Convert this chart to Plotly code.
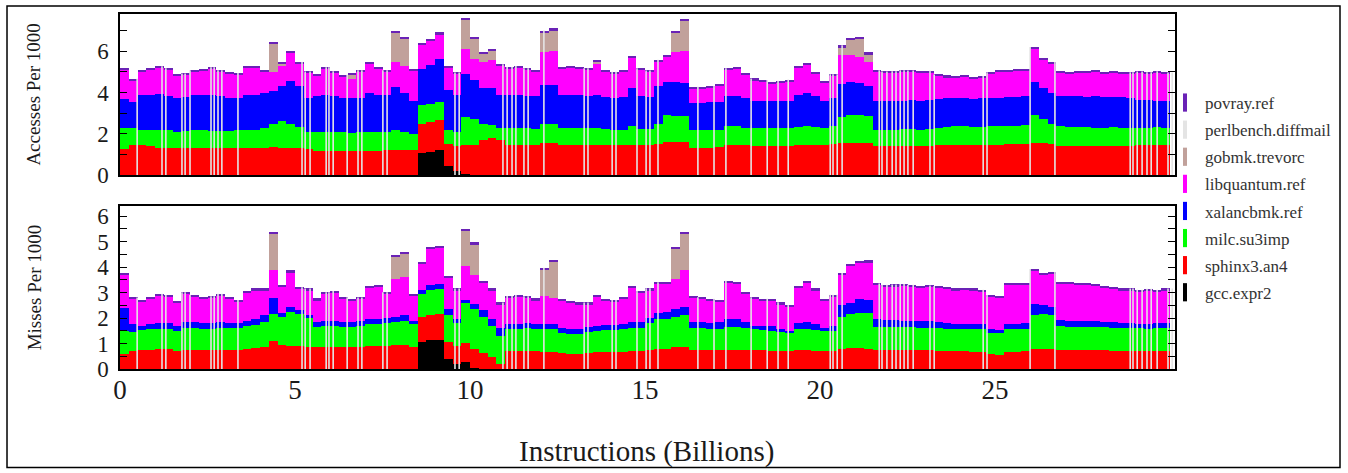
import plotly.graph_objects as go

BIN = 0.25  # billions of instructions per sample bin

# ---------------- Top panel: Accesses per 1000 ----------------
# cumulative upper edge of each stacked layer, per bin
acc_gcc = [
    0, 0, 0, 0, 0, 0, 0, 0, 0, 0,
    0, 0, 0, 0, 0, 0, 0, 0, 0, 0,
    0, 0, 0, 0, 0, 0, 0, 0, 0, 0,
    0, 0, 0, 0, 1.08, 1.10, 1.20, 0.45, 0.20, 0.05,
    0, 0, 0, 0, 0, 0, 0, 0, 0, 0,
    0, 0, 0, 0, 0, 0, 0, 0, 0, 0,
    0, 0, 0, 0, 0, 0, 0, 0, 0, 0,
    0, 0, 0, 0, 0, 0, 0, 0, 0, 0,
    0, 0, 0, 0, 0, 0, 0, 0, 0, 0,
    0, 0, 0, 0, 0, 0, 0, 0, 0, 0,
    0, 0, 0, 0, 0, 0, 0, 0, 0, 0,
    0, 0, 0, 0, 0, 0, 0, 0, 0, 0,
]
acc_red_top = [
    1.25, 1.45, 1.45, 1.40, 1.32, 1.32, 1.30, 1.30, 1.32, 1.32,
    1.30, 1.32, 1.30, 1.32, 1.32, 1.32, 1.32, 1.35, 1.32, 1.32,
    1.32, 1.25, 1.18, 1.18, 1.16, 1.16, 1.16, 1.16, 1.18, 1.18,
    1.20, 1.24, 1.24, 1.20, 2.50, 2.55, 2.65, 1.50, 1.40, 1.45,
    1.45, 1.70, 1.80, 1.70, 1.48, 1.48, 1.48, 1.48, 1.56, 1.56,
    1.48, 1.48, 1.48, 1.48, 1.48, 1.45, 1.45, 1.45, 1.48, 1.45,
    1.45, 1.50, 1.62, 1.62, 1.62, 1.32, 1.32, 1.32, 1.35, 1.45,
    1.45, 1.45, 1.40, 1.40, 1.40, 1.40, 1.40, 1.45, 1.45, 1.45,
    1.45, 1.50, 1.55, 1.56, 1.56, 1.56, 1.40, 1.40, 1.40, 1.42,
    1.42, 1.40, 1.42, 1.45, 1.48, 1.48, 1.48, 1.46, 1.48, 1.48,
    1.48, 1.50, 1.50, 1.52, 1.55, 1.55, 1.50, 1.42, 1.40, 1.40,
    1.40, 1.40, 1.40, 1.42, 1.42, 1.40, 1.45, 1.45, 1.45, 1.45,
]
acc_green_top = [
    2.30, 2.30, 2.20, 2.20, 2.20, 2.20, 2.10, 2.15, 2.20, 2.20,
    2.15, 2.15, 2.15, 2.20, 2.20, 2.20, 2.28, 2.50, 2.60, 2.50,
    2.35, 2.10, 2.08, 2.10, 2.08, 2.08, 2.05, 2.08, 2.10, 2.08,
    2.10, 2.20, 2.10, 2.00, 3.40, 3.45, 3.55, 2.20, 2.10, 2.80,
    2.70, 2.50, 2.45, 2.30, 2.30, 2.30, 2.28, 2.25, 2.50, 2.50,
    2.30, 2.30, 2.28, 2.28, 2.30, 2.25, 2.20, 2.20, 2.36, 2.25,
    2.25, 2.50, 2.90, 2.88, 2.84, 2.20, 2.20, 2.20, 2.20, 2.36,
    2.36, 2.30, 2.28, 2.28, 2.28, 2.28, 2.28, 2.35, 2.40, 2.35,
    2.30, 2.40, 2.80, 2.92, 2.90, 2.85, 2.20, 2.20, 2.20, 2.22,
    2.22, 2.20, 2.22, 2.30, 2.32, 2.36, 2.36, 2.34, 2.32, 2.36,
    2.36, 2.38, 2.40, 2.45, 2.90, 2.70, 2.50, 2.36, 2.32, 2.32,
    2.32, 2.30, 2.30, 2.32, 2.30, 2.28, 2.30, 2.30, 2.32, 2.30,
]
acc_blue_top = [
    3.70, 3.55, 3.90, 3.90, 3.92, 3.85, 3.72, 3.80, 3.88, 3.88,
    3.88, 3.82, 3.75, 3.75, 3.88, 3.90, 3.97, 4.05, 4.30, 4.55,
    4.30, 3.75, 3.82, 3.88, 3.82, 3.75, 3.72, 3.75, 3.97, 3.88,
    3.88, 4.25, 4.00, 3.60, 5.15, 5.35, 5.60, 4.10, 3.90, 4.90,
    4.60, 4.20, 4.20, 3.90, 3.90, 3.90, 3.85, 3.85, 4.35, 4.35,
    3.90, 3.90, 3.88, 3.85, 3.90, 3.80, 3.75, 3.80, 4.20, 3.85,
    3.80, 4.30, 4.50, 4.50, 4.45, 3.50, 3.50, 3.55, 3.55, 3.85,
    3.85, 3.75, 3.60, 3.57, 3.57, 3.57, 3.60, 3.90, 3.97, 3.85,
    3.57, 3.75, 4.40, 4.50, 4.45, 4.30, 3.60, 3.57, 3.57, 3.60,
    3.62, 3.60, 3.62, 3.70, 3.72, 3.75, 3.72, 3.70, 3.72, 3.75,
    3.75, 3.78, 3.80, 3.82, 4.50, 4.20, 4.00, 3.85, 3.82, 3.82,
    3.80, 3.82, 3.80, 3.80, 3.78, 3.75, 3.65, 3.62, 3.60, 3.60,
]
acc_mag_top = [
    5.10, 4.60, 5.00, 5.10, 5.20, 5.10, 4.80, 4.85, 5.00, 5.05,
    5.15, 5.00, 4.90, 4.88, 5.20, 5.20, 5.00, 5.00, 5.30, 5.95,
    5.40, 4.95, 4.80, 5.15, 4.95, 4.78, 4.65, 5.00, 5.40, 5.15,
    5.00, 5.50, 5.30, 5.05, 6.30, 6.50, 6.80, 5.20, 4.90, 6.10,
    5.60, 5.50, 5.55, 5.30, 5.15, 5.20, 5.10, 5.00, 5.95, 6.00,
    5.15, 5.20, 5.15, 5.10, 5.40, 5.00, 4.93, 5.00, 5.70, 5.10,
    5.00, 5.50, 5.75, 5.95, 6.00, 4.20, 4.20, 4.25, 4.35, 5.10,
    5.15, 4.85, 4.60, 4.53, 4.45, 4.50, 4.55, 5.20, 5.35, 4.90,
    4.50, 4.80, 5.80, 5.80, 5.70, 5.50, 5.00, 4.95, 4.95, 5.00,
    5.00, 4.95, 4.98, 4.80, 4.75, 4.75, 4.78, 4.70, 4.72, 4.90,
    5.00, 5.00, 5.05, 5.05, 6.10, 5.60, 5.40, 4.95, 4.93, 4.95,
    4.95, 5.00, 4.93, 4.95, 4.90, 4.90, 4.95, 4.90, 4.95, 4.90,
]
acc_tan_top = [  # 0 = no gobmk contribution in that bin
    0, 0, 0, 0, 0, 0, 0, 0, 0, 0,
    0, 0, 0, 0, 0, 0, 0, 6.35, 5.40, 0,
    0, 0, 0, 0, 0, 0, 4.85, 0, 0, 0,
    0, 6.90, 6.60, 0, 0, 0, 0, 0, 0, 7.50,
    6.60, 5.90, 6.05, 0, 0, 0, 0, 0, 6.90, 7.00,
    0, 0, 0, 0, 5.50, 0, 0, 0, 0, 0,
    0, 0, 0, 6.90, 7.45, 0, 0, 0, 0, 0,
    0, 0, 0, 0, 0, 0, 0, 0, 0, 0,
    0, 0, 6.20, 6.55, 6.60, 5.85, 0, 0, 0, 0,
    0, 0, 0, 0, 0, 0, 0, 0, 0, 0,
    0, 0, 0, 0, 0, 0, 0, 0, 0, 0,
    0, 0, 0, 0, 0, 0, 0, 0, 0, 0,
]
acc_povray = [
    0.08, 0.07, 0.08, 0.08, 0.07, 0.08, 0.08, 0.07, 0.08, 0.08,
    0.07, 0.08, 0.08, 0.07, 0.08, 0.08, 0.07, 0.10, 0.08, 0.08,
    0.08, 0.07, 0.08, 0.07, 0.08, 0.08, 0.07, 0.08, 0.08, 0.07,
    0.08, 0.10, 0.09, 0.07, 0.10, 0.10, 0.12, 0.08, 0.07, 0.10,
    0.09, 0.08, 0.08, 0.07, 0.08, 0.08, 0.07, 0.08, 0.10, 0.10,
    0.08, 0.07, 0.08, 0.08, 0.09, 0.07, 0.08, 0.08, 0.09, 0.08,
    0.07, 0.08, 0.08, 0.10, 0.10, 0.07, 0.08, 0.07, 0.08, 0.08,
    0.08, 0.07, 0.08, 0.07, 0.08, 0.07, 0.08, 0.08, 0.08, 0.07,
    0.07, 0.08, 0.09, 0.10, 0.10, 0.09, 0.08, 0.07, 0.08, 0.08,
    0.07, 0.08, 0.08, 0.07, 0.08, 0.07, 0.08, 0.07, 0.08, 0.08,
    0.08, 0.07, 0.08, 0.08, 0.10, 0.09, 0.08, 0.07, 0.08, 0.08,
    0.07, 0.08, 0.08, 0.07, 0.08, 0.08, 0.07, 0.08, 0.08, 0.07,
]

# ---------------- Bottom panel: Misses per 1000 ----------------
miss_gcc = [
    0, 0, 0, 0, 0, 0, 0, 0, 0, 0,
    0, 0, 0, 0, 0, 0, 0, 0, 0, 0,
    0, 0, 0, 0, 0, 0, 0, 0, 0, 0,
    0, 0, 0, 0, 1.05, 1.12, 1.15, 0.40, 0.20, 0.28,
    0.05, 0, 0, 0, 0, 0, 0, 0, 0, 0,
    0, 0, 0, 0, 0, 0, 0, 0, 0, 0,
    0, 0, 0, 0, 0, 0, 0, 0, 0, 0,
    0, 0, 0, 0, 0, 0, 0, 0, 0, 0,
    0, 0, 0, 0, 0, 0, 0, 0, 0, 0,
    0, 0, 0, 0, 0, 0, 0, 0, 0, 0,
    0, 0, 0, 0, 0, 0, 0, 0, 0, 0,
    0, 0, 0, 0, 0, 0, 0, 0, 0, 0,
]
miss_red_top = [
    0.60, 0.72, 0.74, 0.76, 0.78, 0.78, 0.72, 0.76, 0.76, 0.74,
    0.74, 0.74, 0.74, 0.74, 0.80, 0.82, 0.85, 1.10, 0.95, 0.92,
    0.92, 0.88, 0.85, 0.86, 0.86, 0.86, 0.86, 0.86, 0.90, 0.90,
    0.90, 0.94, 0.94, 0.88, 2.05, 2.10, 2.15, 1.05, 0.90, 1.00,
    0.80, 0.62, 0.45, 0.20, 0.70, 0.72, 0.72, 0.72, 0.68, 0.66,
    0.62, 0.60, 0.60, 0.62, 0.66, 0.68, 0.68, 0.68, 0.70, 0.72,
    0.75, 0.78, 0.80, 0.85, 0.87, 0.75, 0.74, 0.74, 0.74, 0.76,
    0.76, 0.74, 0.74, 0.74, 0.72, 0.72, 0.72, 0.74, 0.74, 0.72,
    0.70, 0.70, 0.78, 0.82, 0.82, 0.80, 0.74, 0.74, 0.74, 0.74,
    0.74, 0.74, 0.74, 0.72, 0.70, 0.70, 0.70, 0.68, 0.66, 0.58,
    0.55, 0.66, 0.68, 0.70, 0.80, 0.78, 0.78, 0.76, 0.76, 0.75,
    0.75, 0.74, 0.74, 0.72, 0.70, 0.70, 0.70, 0.70, 0.70, 0.72,
]
miss_green_top = [
    1.50, 1.45, 1.52, 1.55, 1.58, 1.58, 1.50, 1.60, 1.60, 1.58,
    1.58, 1.60, 1.60, 1.60, 1.70, 1.72, 1.85, 2.15, 2.05, 2.25,
    2.15, 2.00, 1.65, 1.68, 1.68, 1.65, 1.65, 1.70, 1.75, 1.78,
    1.80, 1.85, 1.88, 1.75, 2.95, 3.10, 3.15, 2.10, 1.80, 2.60,
    2.35, 2.05, 1.70, 1.30, 1.55, 1.58, 1.60, 1.58, 1.58, 1.55,
    1.40, 1.38, 1.38, 1.45, 1.50, 1.52, 1.52, 1.55, 1.60, 1.62,
    1.80, 1.95, 1.98, 2.05, 2.10, 1.60, 1.60, 1.58, 1.58, 1.65,
    1.65, 1.60, 1.55, 1.52, 1.50, 1.45, 1.42, 1.55, 1.58, 1.52,
    1.50, 1.50, 2.05, 2.15, 2.20, 2.20, 1.65, 1.65, 1.66, 1.65,
    1.64, 1.62, 1.62, 1.62, 1.58, 1.58, 1.58, 1.56, 1.55, 1.42,
    1.40, 1.55, 1.56, 1.58, 2.10, 2.15, 2.10, 1.68, 1.66, 1.65,
    1.65, 1.64, 1.64, 1.62, 1.60, 1.60, 1.60, 1.58, 1.60, 1.60,
]
miss_blue_top = [
    2.40, 1.75, 1.70, 1.75, 1.80, 1.80, 1.70, 1.85, 1.85, 1.80,
    1.80, 1.85, 1.82, 1.80, 1.90, 1.95, 2.10, 2.80, 2.20, 2.45,
    2.30, 2.10, 1.85, 1.88, 1.88, 1.85, 1.85, 1.90, 1.95, 1.98,
    2.00, 2.04, 2.10, 1.90, 3.10, 3.30, 3.35, 2.35, 1.95, 2.70,
    2.55, 2.30, 1.95, 1.60, 1.75, 1.78, 1.80, 1.78, 1.78, 1.75,
    1.60, 1.58, 1.55, 1.65, 1.70, 1.72, 1.72, 1.75, 1.85, 1.85,
    2.00, 2.20, 2.25, 2.35, 2.45, 1.85, 1.85, 1.82, 1.85, 1.98,
    1.98, 1.85, 1.70, 1.70, 1.68, 1.55, 1.50, 1.80, 1.85, 1.78,
    1.62, 1.70, 2.50, 2.60, 2.75, 2.70, 1.95, 1.92, 1.92, 1.90,
    1.90, 1.90, 1.88, 1.85, 1.80, 1.78, 1.78, 1.76, 1.75, 1.55,
    1.52, 1.75, 1.78, 1.80, 2.55, 2.50, 2.45, 1.92, 1.90, 1.90,
    1.90, 1.88, 1.86, 1.85, 1.80, 1.80, 1.78, 1.78, 1.80, 1.80,
]
miss_mag_top = [
    3.70, 2.75, 2.65, 2.75, 2.90, 2.85, 2.60, 2.95, 2.85, 2.75,
    2.80, 2.90, 2.75, 2.65, 3.00, 3.10, 3.10, 3.90, 3.25, 3.80,
    3.15, 3.10, 2.70, 2.95, 3.00, 2.75, 2.70, 2.75, 3.20, 3.25,
    2.95, 3.55, 3.60, 2.90, 4.15, 4.70, 4.75, 3.60, 3.10, 4.05,
    3.70, 3.40, 3.10, 2.55, 2.80, 2.85, 2.80, 2.70, 2.85, 2.80,
    2.70, 2.60, 2.55, 2.55, 2.85, 2.70, 2.65, 2.75, 3.20, 3.00,
    3.10, 3.35, 3.35, 3.55, 3.90, 2.80, 2.75, 2.70, 2.65, 3.40,
    3.35, 2.95, 2.75, 2.70, 2.70, 2.55, 2.45, 3.20, 3.40, 3.10,
    2.70, 2.85, 3.70, 4.05, 4.15, 4.20, 3.30, 3.25, 3.25, 3.28,
    3.25, 3.20, 3.22, 3.20, 3.15, 3.10, 3.12, 3.10, 3.05, 2.85,
    2.80, 3.30, 3.32, 3.30, 3.85, 3.70, 3.75, 3.35, 3.35, 3.32,
    3.30, 3.28, 3.20, 3.15, 3.10, 3.10, 3.05, 3.08, 3.05, 3.10,
]
miss_tan_top = [
    0, 0, 0, 0, 0, 0, 0, 0, 0, 0,
    0, 0, 0, 0, 0, 0, 0, 5.30, 0, 0,
    0, 0, 0, 0, 0, 0, 0, 0, 0, 0,
    0, 4.40, 4.50, 0, 0, 0, 0, 0, 0, 5.40,
    4.90, 0, 0, 0, 0, 0, 0, 0, 3.90, 4.20,
    0, 0, 0, 0, 0, 0, 0, 0, 0, 0,
    0, 0, 0, 4.70, 5.30, 0, 0, 0, 0, 0,
    0, 0, 0, 0, 0, 0, 0, 0, 0, 0,
    0, 0, 0, 0, 0, 0, 0, 0, 0, 0,
    0, 0, 0, 0, 0, 0, 0, 0, 0, 0,
    0, 0, 0, 0, 0, 0, 0, 0, 0, 0,
    0, 0, 0, 0, 0, 0, 0, 0, 0, 0,
]
miss_povray = [
    0.07, 0.06, 0.06, 0.07, 0.06, 0.06, 0.07, 0.06, 0.06, 0.07,
    0.06, 0.06, 0.07, 0.06, 0.06, 0.07, 0.06, 0.08, 0.06, 0.07,
    0.06, 0.06, 0.07, 0.06, 0.06, 0.07, 0.06, 0.06, 0.07, 0.06,
    0.06, 0.08, 0.08, 0.06, 0.07, 0.08, 0.08, 0.06, 0.06, 0.08,
    0.07, 0.06, 0.06, 0.06, 0.07, 0.06, 0.06, 0.07, 0.08, 0.08,
    0.06, 0.07, 0.06, 0.06, 0.07, 0.06, 0.06, 0.07, 0.06, 0.06,
    0.07, 0.06, 0.06, 0.08, 0.08, 0.06, 0.07, 0.06, 0.06, 0.07,
    0.06, 0.06, 0.07, 0.06, 0.06, 0.07, 0.06, 0.06, 0.07, 0.06,
    0.06, 0.07, 0.07, 0.08, 0.08, 0.07, 0.06, 0.06, 0.07, 0.06,
    0.06, 0.07, 0.06, 0.06, 0.07, 0.06, 0.06, 0.07, 0.06, 0.06,
    0.07, 0.06, 0.06, 0.07, 0.08, 0.07, 0.06, 0.06, 0.07, 0.06,
    0.06, 0.07, 0.06, 0.06, 0.07, 0.06, 0.06, 0.07, 0.06, 0.06,
]

# perlbench.diffmail samples (thin light lines), instruction positions in billions
perl_x = [0.49, 1.20, 1.31, 1.77, 1.86, 2.00, 2.60, 2.69, 2.80, 2.91, 3.37,
          5.20, 5.29, 5.43, 5.89, 5.97, 6.09, 6.49, 6.80, 6.91, 7.51, 7.63,
          9.57, 9.69, 10.94, 11.06, 11.20, 11.31, 11.54, 11.66, 12.11, 13.26,
          13.37, 14.06, 14.17, 14.77, 15.03, 15.14, 15.37, 16.51, 16.97, 17.31,
          18.03, 18.49, 18.80, 19.09, 20.29, 20.37, 20.49, 20.63, 21.69, 21.77,
          21.91, 22.06, 22.17, 22.29, 22.40, 22.51, 22.66, 23.14, 23.26, 24.66,
          24.77, 26.00, 26.71, 28.86, 28.94, 29.06, 29.20, 29.34, 29.46, 29.63,
          29.94, 30.06]

names = ["povray.ref", "perlbench.diffmail", "gobmk.trevorc", "libquantum.ref",
         "xalancbmk.ref", "milc.su3imp", "sphinx3.an4", "gcc.expr2"]
colors = {"povray.ref": "#6a22b6", "perlbench.diffmail": "#e4e4e4",
          "gobmk.trevorc": "#c1a19b", "libquantum.ref": "#ff00ff",
          "xalancbmk.ref": "#0000ff", "milc.su3imp": "#00ff00",
          "sphinx3.an4": "#ff0000", "gcc.expr2": "#000000"}

FONT = "'Liberation Serif', 'Times New Roman', Times, serif"
n = len(acc_red_top)
xc = [BIN * (i + 0.5) for i in range(n)]


def layers(gcc, red, green, blue, mag, tan, pov):
    L = {}
    L["gcc.expr2"] = list(gcc)
    L["sphinx3.an4"] = [r - k for r, k in zip(red, gcc)]
    L["milc.su3imp"] = [g - r for g, r in zip(green, red)]
    L["xalancbmk.ref"] = [b - g for b, g in zip(blue, green)]
    L["libquantum.ref"] = [m - b for m, b in zip(mag, blue)]
    L["gobmk.trevorc"] = [max(t - m, 0) if t > 0 else 0 for t, m in zip(tan, mag)]
    L["povray.ref"] = list(pov)
    total = [max(t, m) + p for t, m, p in zip(tan, mag, pov)]
    return L, total


acc_L, acc_total = layers(acc_gcc, acc_red_top, acc_green_top, acc_blue_top,
                          acc_mag_top, acc_tan_top, acc_povray)
miss_L, miss_total = layers(miss_gcc, miss_red_top, miss_green_top, miss_blue_top,
                            miss_mag_top, miss_tan_top, miss_povray)

fig = go.Figure()
stack_order = ["gcc.expr2", "sphinx3.an4", "milc.su3imp", "xalancbmk.ref",
               "libquantum.ref", "gobmk.trevorc", "povray.ref"]

for (L, total, xa, ya) in [(acc_L, acc_total, "x", "y"), (miss_L, miss_total, "x2", "y2")]:
    for nm in stack_order:
        fig.add_trace(go.Bar(x=xc, y=L[nm], width=BIN, xaxis=xa, yaxis=ya,
                             marker=dict(color=colors[nm], line=dict(width=0)),
                             name=nm, showlegend=False, hoverinfo="skip"))
    lx, ly = [], []
    for p in perl_x:
        i = min(int(p / BIN), n - 1)
        lx += [p, p, None]
        ly += [0, total[i], None]
    fig.add_trace(go.Scatter(x=lx, y=ly, mode="lines", xaxis=xa, yaxis=ya,
                             line=dict(color=colors["perlbench.diffmail"], width=1.6),
                             showlegend=False, hoverinfo="skip"))

# legend entries
for i, nm in enumerate(names):
    fig.add_trace(go.Scatter(x=[None], y=[None], mode="markers", name=nm,
                             legendgroup="g%d" % i,
                             marker=dict(symbol="line-ns-open", size=13, color=colors[nm],
                                         line=dict(color=colors[nm], width=4))))

axis_common = dict(showline=True, linecolor="black", linewidth=1.5, mirror=True,
                   showgrid=False, zeroline=False)

fig.update_layout(
    width=1348, height=473,
    margin=dict(l=120, r=173, t=12, b=104),
    paper_bgcolor="white", plot_bgcolor="white",
    barmode="stack", bargap=0,
    font=dict(family=FONT, color="#1a1a1a"),
    xaxis=dict(domain=[0, 1], range=[0, 30.14], anchor="y", showticklabels=False,
               ticks="", matches="x2", **axis_common),
    xaxis2=dict(domain=[0, 1], range=[0, 30.14], anchor="y2", tickvals=[0, 5, 10, 15, 20, 25],
                ticks="", tickfont=dict(size=27, family=FONT, color="#1a1a1a"),
                ticklabelstandoff=-4, **axis_common),
    yaxis=dict(domain=[0.546, 1], range=[0, 7.8], anchor="x", tickvals=[0, 2, 4, 6],
               ticks="inside", ticklen=7, tickcolor="black", tickwidth=1.2,
               minor=dict(tickvals=[1, 3, 5, 7], ticks="inside", ticklen=7,
                          tickcolor="black", tickwidth=1.2),
               tickfont=dict(size=23, family=FONT, color="#1a1a1a"),
               ticklabelstandoff=5,
               showline=True, linecolor="black", linewidth=1.5, mirror="ticks",
               showgrid=False, zeroline=False),
    yaxis2=dict(domain=[0, 0.459], range=[0, 6.4], anchor="x2", tickvals=[0, 1, 2, 3, 4, 5, 6],
                ticks="inside", ticklen=7, tickcolor="black", tickwidth=1.2,
                minor=dict(tickvals=[0.5, 1.5, 2.5, 3.5, 4.5, 5.5], ticks="inside", ticklen=7,
                           tickcolor="black", tickwidth=1.2),
                tickfont=dict(size=23, family=FONT, color="#1a1a1a"),
                ticklabelstandoff=5,
                showline=True, linecolor="black", linewidth=1.5, mirror="ticks",
                showgrid=False, zeroline=False),
    legend=dict(x=0.9905, xanchor="left", y=0.80, yanchor="top", traceorder="grouped",
                tracegroupgap=2, font=dict(size=17, family=FONT, color="#333333"),
                bgcolor="rgba(0,0,0,0)", itemclick=False),
    showlegend=True,
)

fig.add_annotation(text="Accesses Per 1000", textangle=-90, xref="paper", yref="paper",
                   x=-0.0815, y=0.773, xanchor="center", yanchor="middle", showarrow=False,
                   font=dict(size=19, family=FONT, color="#1a1a1a"))
fig.add_annotation(text="Misses Per 1000", textangle=-90, xref="paper", yref="paper",
                   x=-0.0815, y=0.23, xanchor="center", yanchor="middle", showarrow=False,
                   font=dict(size=19, family=FONT, color="#1a1a1a"))
fig.add_annotation(text="Instructions (Billions)", xref="paper", yref="paper",
                   x=0.4995, y=-0.2325, xanchor="center", yanchor="middle", showarrow=False,
                   font=dict(size=29, family=FONT, color="#1a1a1a"))

# outer frame of the figure
fig.add_shape(type="rect", xref="paper", yref="paper", x0=-0.1071, x1=1.1564,
              y0=-0.2773, y1=1.0224, line=dict(color="black", width=1.5), layer="below")

fig.write_html("out.html")
